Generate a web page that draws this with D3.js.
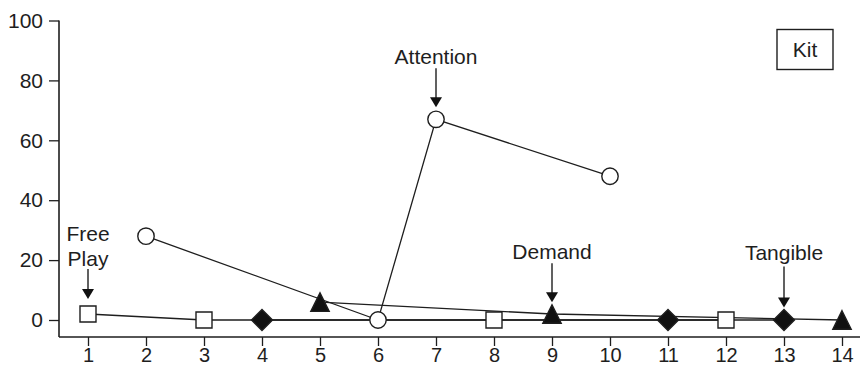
<!DOCTYPE html>
<html>
<head>
<meta charset="utf-8">
<script src="https://cdn.jsdelivr.net/npm/d3@7"></script>
<style>
  html, body { margin: 0; padding: 0; background: #fff; }
  svg { display: block; font-family: "Liberation Sans", Arial, Helvetica, sans-serif; }
</style>
</head>
<body>
<svg id="chart" width="860" height="367"></svg>
<script>
// Session numbers and condition data (percentage of intervals)
const sessions = [1, 2, 3, 4, 5, 6, 7, 8, 9, 10, 11, 12, 13, 14];
const yTicks = [0, 20, 40, 60, 80, 100];

const freePlaySessions = [1, 3, 8, 12];
const freePlayValues   = [2, 0, 0, 0];

const attentionSessions = [2, 6, 7, 10];
const attentionValues   = [28, 0, 67, 48];

const demandSessions = [5, 9, 14];
const demandValues   = [6, 2, 0];

const tangibleSessions = [4, 11, 13];
const tangibleValues   = [0, 0, 0];

// Condition call-outs: gap above marker, arrow length, text gap above arrow
const conditionLabels = [
  { lines: ["Free", "Play"], session: 1, value: 2, marker: "square", gap: 7, len: 30, textGap: 3 },
  { lines: ["Attention"], session: 7, value: 67, marker: "circle", gap: 4, len: 39, textGap: 4 },
  { lines: ["Demand"], session: 9, value: 2, marker: "triangle", gap: 2.5, len: 39, textGap: 4 },
  { lines: ["Tangible"], session: 13, value: 0, marker: "diamond", gap: 2, len: 41, textGap: 7 }
];
const panelLabel = "Kit";

const svg = d3.select("#chart");
const ink = "#1e1e1e";
const fontSize = 21;

const x = d3.scaleLinear().domain([1, 14]).range([88, 842]);
const y = d3.scaleLinear().domain([0, 100]).range([320, 20.5]);
const axisY = 337;

// Axes
svg.append("line")
  .attr("x1", 59).attr("x2", 860).attr("y1", axisY).attr("y2", axisY)
  .attr("stroke", ink).attr("stroke-width", 1.6);
svg.append("line")
  .attr("x1", 59).attr("x2", 59).attr("y1", y(100)).attr("y2", axisY)
  .attr("stroke", ink).attr("stroke-width", 1.6);

const xAxis = d3.axisBottom(x).tickValues(sessions).tickSize(9).tickPadding(4).tickFormat(d3.format("d"));
const gx = svg.append("g").attr("transform", `translate(0,${axisY})`).call(xAxis);
gx.select(".domain").remove();
gx.selectAll(".tick line").attr("stroke", ink).attr("stroke-width", 1.3);
gx.selectAll(".tick text").attr("fill", ink).attr("font-size", 20)
  .attr("font-family", "Liberation Sans, Arial, sans-serif")
  .attr("dy", null).attr("y", 25);

const yAxis = d3.axisLeft(y).tickValues(yTicks).tickSize(10).tickPadding(6);
const gy = svg.append("g").attr("transform", "translate(59,0)").call(yAxis);
gy.select(".domain").remove();
gy.selectAll(".tick line").attr("stroke", ink).attr("stroke-width", 1.3);
gy.selectAll(".tick text").attr("fill", ink).attr("font-size", fontSize)
  .attr("font-family", "Liberation Sans, Arial, sans-serif");

// Series
const series = [
  { s: freePlaySessions, v: freePlayValues, marker: "square" },
  { s: attentionSessions, v: attentionValues, marker: "circle" },
  { s: demandSessions, v: demandValues, marker: "triangle" },
  { s: tangibleSessions, v: tangibleValues, marker: "diamond" }
].map(d => ({ ...d, pts: d.s.map((s, i) => [s, d.v[i]]) }));

const line = d3.line().x(d => x(d[0])).y(d => y(d[1]));

svg.append("g").selectAll("path").data(series).join("path")
  .attr("d", d => line(d.pts))
  .attr("fill", "none").attr("stroke", ink).attr("stroke-width", 1.3);

function markerPath(kind) {
  switch (kind) {
    case "square": return "M-8,-8H8V8H-8Z";
    case "diamond": return "M0,-10.5L10.5,0L0,10.5L-10.5,0Z";
    case "triangle": return "M0,-9.3L9.2,9.3H-9.2Z";
    default: return null;
  }
}

const mg = svg.append("g");
series.forEach(sr => {
  sr.pts.forEach(p => {
    const cx = x(p[0]), cy = y(p[1]);
    if (sr.marker === "circle") {
      mg.append("circle").attr("cx", cx).attr("cy", cy).attr("r", 8.2)
        .attr("fill", "#fff").attr("stroke", ink).attr("stroke-width", 1.4);
    } else {
      const filled = sr.marker !== "square";
      mg.append("path").attr("d", markerPath(sr.marker))
        .attr("transform", `translate(${cx},${cy})`)
        .attr("fill", filled ? "#111" : "#fff")
        .attr("stroke", ink).attr("stroke-width", 1.4);
    }
  });
});

// Condition annotations with arrows
const markerHalf = { square: 8, circle: 8.2, triangle: 9.3, diamond: 10.5 };
const ag = svg.append("g");
conditionLabels.forEach(c => {
  const cx = x(c.session);
  const tip = y(c.value) - markerHalf[c.marker] - c.gap;
  const start = tip - c.len;
  const lh = 25;
  c.lines.forEach((t, i) => {
    ag.append("text")
      .attr("x", cx)
      .attr("y", start - c.textGap - (c.lines.length - 1 - i) * lh)
      .attr("text-anchor", "middle")
      .attr("font-size", fontSize).attr("fill", ink)
      .text(t);
  });
  ag.append("line").attr("x1", cx).attr("x2", cx).attr("y1", start).attr("y2", tip - 8)
    .attr("stroke", ink).attr("stroke-width", 1.4);
  ag.append("path")
    .attr("d", `M${cx - 6},${tip - 10}L${cx + 6},${tip - 10}L${cx},${tip}Z`)
    .attr("fill", "#111");
});

// Panel label
svg.append("rect").attr("x", 777).attr("y", 29.5).attr("width", 56).attr("height", 40)
  .attr("fill", "#fff").attr("stroke", ink).attr("stroke-width", 1.4);
svg.append("text").attr("x", 805).attr("y", 57).attr("text-anchor", "middle")
  .attr("font-size", fontSize).attr("fill", ink).text(panelLabel);
</script>
</body>
</html>
